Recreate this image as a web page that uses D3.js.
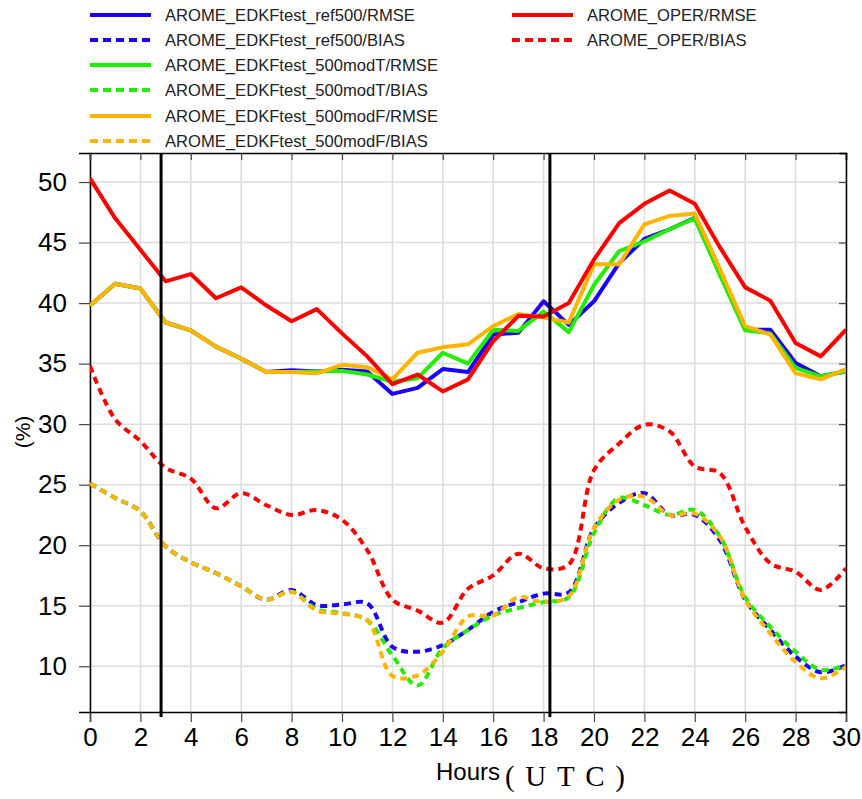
<!DOCTYPE html>
<html>
<head>
<meta charset="utf-8">
<script src="https://cdn.jsdelivr.net/npm/d3@7"></script>
<style>
  html, body { margin: 0; padding: 0; background: #fff; }
  svg { display: block; }
</style>
</head>
<body>
<svg id="chart" width="862" height="799"></svg>
<script>
const hours = d3.range(0, 31);

const refRMSE  = [39.8,41.6,41.2,38.4,37.75,36.4,35.4,34.3,34.45,34.35,34.5,34.35,32.5,33.0,34.55,34.3,37.4,37.55,40.15,38.2,40.15,43.3,45.3,46.1,47.05,42.4,37.8,37.8,35.05,33.95,34.35];
const refBIAS  = [25.1,23.9,22.8,19.9,18.6,17.7,16.6,15.5,16.3,15.05,15.1,15.2,11.6,11.2,11.75,13.0,14.5,15.3,16.0,16.1,21.4,23.5,24.3,22.5,22.5,20.4,15.5,13.0,10.8,9.5,10.1];
const modTRMSE = [39.8,41.6,41.2,38.4,37.75,36.4,35.4,34.3,34.3,34.35,34.4,34.1,33.5,33.8,35.9,35.0,37.8,37.7,39.3,37.6,41.5,44.3,45.1,46.1,47.0,42.3,37.75,37.5,34.65,33.95,34.35];
const modTBIAS = [25.1,23.9,22.8,19.9,18.6,17.7,16.6,15.5,16.15,14.7,14.4,13.8,10.9,8.4,11.5,13.0,14.2,14.8,15.3,15.7,21.0,23.9,23.3,22.5,22.9,20.7,15.7,13.25,11.2,9.7,10.1];
const modFRMSE = [39.8,41.6,41.2,38.4,37.75,36.4,35.4,34.3,34.3,34.2,34.9,34.7,33.7,35.9,36.35,36.6,38.1,39.1,38.8,38.4,43.2,43.2,46.5,47.2,47.4,42.8,38.1,37.4,34.2,33.7,34.55];
const modFBIAS = [25.1,23.9,22.8,19.9,18.6,17.7,16.6,15.5,16.15,14.6,14.35,13.8,9.2,9.25,11.2,14.1,14.2,15.7,15.3,15.8,21.4,23.75,24.0,22.5,22.6,20.7,15.5,12.7,10.35,9.0,9.95];
const operRMSE = [50.3,47.0,44.4,41.8,42.4,40.4,41.3,39.8,38.5,39.5,37.5,35.6,33.3,34.1,32.7,33.7,36.85,38.95,38.9,40.0,43.6,46.6,48.2,49.3,48.2,44.6,41.3,40.2,36.7,35.6,37.8];
const operBIAS = [34.8,30.4,28.6,26.4,25.5,23.05,24.3,23.3,22.5,22.9,22.1,19.6,15.5,14.6,13.6,16.4,17.5,19.3,18.1,18.4,26.2,28.4,29.95,29.4,26.5,25.95,21.5,18.5,17.8,16.3,18.1];

const seriesNames = [
  "AROME_EDKFtest_ref500/RMSE","AROME_EDKFtest_ref500/BIAS",
  "AROME_EDKFtest_500modT/RMSE","AROME_EDKFtest_500modT/BIAS",
  "AROME_EDKFtest_500modF/RMSE","AROME_EDKFtest_500modF/BIAS",
  "AROME_OPER/RMSE","AROME_OPER/BIAS"
];
const seriesValues = [refRMSE, refBIAS, modTRMSE, modTBIAS, modFRMSE, modFBIAS, operRMSE, operBIAS];
const seriesColors = ["#1a00ff","#1a00ff","#22ee00","#22ee00","#ffb400","#ffb400","#ff0000","#ff0000"];
const seriesDashed = [false,true,false,true,false,true,false,true];

const xTicks = d3.range(0, 31, 2);
const yTicks = [10,15,20,25,30,35,40,45,50];
const markerHours = [2.82, 18.25];

const svg = d3.select("#chart");
const x = d3.scaleLinear().domain([0, 30]).range([90, 846]);
const y = d3.scaleLinear().domain([6.22, 52.4]).range([712, 153]);

// grid
const grid = svg.append("g");
grid.selectAll("line.v").data(xTicks).join("line")
  .attr("x1", d => x(d)).attr("x2", d => x(d))
  .attr("y1", y.range()[1]).attr("y2", y.range()[0])
  .attr("stroke", "#dcdcdc").attr("stroke-width", 1.5);
grid.selectAll("line.h").data(yTicks).join("line")
  .attr("x1", x.range()[0]).attr("x2", x.range()[1])
  .attr("y1", d => y(d)).attr("y2", d => y(d))
  .attr("stroke", "#dcdcdc").attr("stroke-width", 1.5);

// axes
const xAxis = svg.append("g").attr("transform", `translate(0,${y.range()[0]})`)
  .call(d3.axisBottom(x).tickValues(xTicks).tickSize(10).tickPadding(6).tickFormat(d3.format("d")));
const yAxis = svg.append("g").attr("transform", `translate(${x.range()[0]},0)`)
  .call(d3.axisLeft(y).tickValues(yTicks).tickSize(11).tickPadding(12).tickFormat(d3.format("d")));
const xTop = svg.append("g").attr("transform", `translate(0,${y.range()[1]})`)
  .call(d3.axisBottom(x).tickValues(xTicks).tickSize(7).tickFormat(""));
const yRight = svg.append("g").attr("transform", `translate(${x.range()[1]},0)`)
  .call(d3.axisLeft(y).tickValues(yTicks).tickSize(7).tickFormat(""));
[xAxis, yAxis, xTop, yRight].forEach(g => {
  g.select(".domain").attr("stroke", "#000").attr("stroke-width", 1.5);
  g.selectAll(".tick line").attr("stroke", "#444").attr("stroke-width", 1.2);
  g.selectAll("text").attr("font-family", "Liberation Sans, Arial, sans-serif")
    .attr("font-size", 26).attr("fill", "#000");
});

// series
const clipId = "plotclip";
svg.append("clipPath").attr("id", clipId).append("rect")
  .attr("x", x.range()[0]).attr("y", y.range()[1])
  .attr("width", x.range()[1] - x.range()[0]).attr("height", y.range()[0] - y.range()[1]);
const lineStraight = d3.line().x((d, i) => x(hours[i])).y(d => y(d));
const lineCurve = d3.line().x((d, i) => x(hours[i])).y(d => y(d)).curve(d3.curveCatmullRom.alpha(0.5));
const plot = svg.append("g").attr("clip-path", `url(#${clipId})`);
seriesValues.forEach((vals, k) => {
  plot.append("path")
    .attr("d", seriesDashed[k] ? lineCurve(vals) : lineStraight(vals))
    .attr("fill", "none")
    .attr("stroke", seriesColors[k])
    .attr("stroke-width", 4)
    .attr("stroke-dasharray", seriesDashed[k] ? "7,5" : null)
    .attr("stroke-linejoin", "round");
});

// vertical markers
svg.selectAll("line.marker").data(markerHours).join("line")
  .attr("x1", d => x(d)).attr("x2", d => x(d))
  .attr("y1", y.range()[1]).attr("y2", y.range()[0] + 5)
  .attr("stroke", "#000").attr("stroke-width", 3);

// axis titles
svg.append("text")
  .attr("transform", "translate(30,432) rotate(-90)")
  .attr("text-anchor", "middle")
  .attr("font-family", "Liberation Sans, Arial, sans-serif")
  .attr("font-size", 21).text("(%)");
svg.append("text").attr("x", 436).attr("y", 780)
  .attr("font-family", "Liberation Sans, Arial, sans-serif").attr("font-size", 24)
  .text("Hours");
svg.append("text").attr("x", 505).attr("y", 786)
  .attr("font-family", "Liberation Serif, Times New Roman, serif").attr("font-size", 29)
  .attr("textLength", 120).attr("lengthAdjust", "spacing").text("(UTC)");

// legend
const legPos = [
  [90, 15], [90, 40], [90, 65], [90, 90], [90, 116], [90, 141], [512, 15], [512, 40]
];
const leg = svg.append("g");
seriesNames.forEach((name, k) => {
  const [lx, ly] = legPos[k];
  leg.append("line").attr("x1", lx).attr("x2", lx + 61).attr("y1", ly).attr("y2", ly)
    .attr("stroke", seriesColors[k]).attr("stroke-width", 4)
    .attr("stroke-dasharray", seriesDashed[k] ? "8,5" : null);
  leg.append("text").attr("x", lx + 75).attr("y", ly + 6)
    .attr("font-family", "Liberation Sans, Arial, sans-serif").attr("font-size", 16.6)
    .attr("fill", "#222").text(name);
});
</script>
</body>
</html>
